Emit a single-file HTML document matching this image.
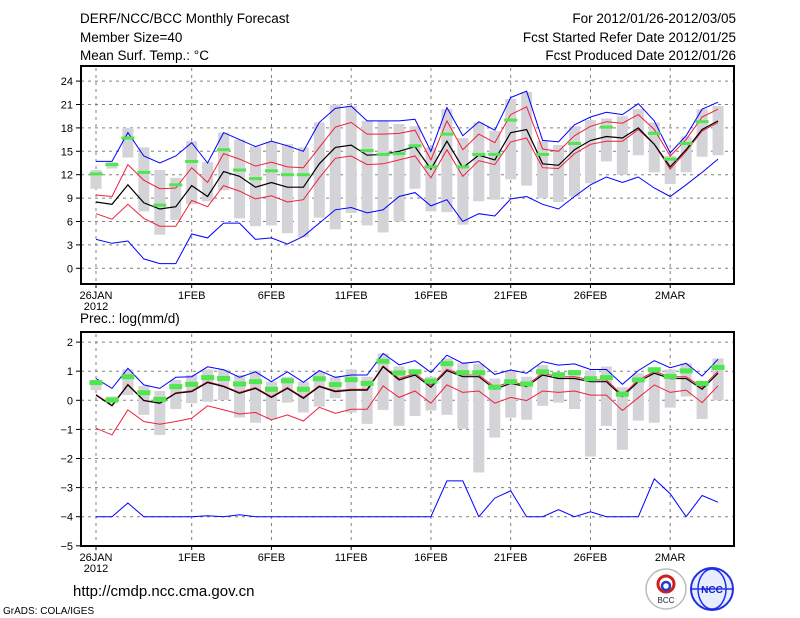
<!DOCTYPE html>
<html><head><meta charset="utf-8"><style>
html,body{margin:0;padding:0;background:#fff;}
svg{display:block;font-family:"Liberation Sans",sans-serif;}
</style></head><body>
<svg id="c" width="800" height="618" viewBox="0 0 800 618" xmlns="http://www.w3.org/2000/svg">
<rect x="0" y="0" width="800" height="618" fill="#fff"/>
<g font-size="13.5" fill="#000">
<text x="80" y="23">DERF/NCC/BCC Monthly Forecast</text>
<text x="80" y="42">Member Size=40</text>
<text x="80" y="60">Mean Surf. Temp.: °C</text>
<text x="736" y="23" text-anchor="end">For 2012/01/26-2012/03/05</text>
<text x="736" y="42" text-anchor="end">Fcst Started Refer Date 2012/01/25</text>
<text x="736" y="60" text-anchor="end">Fcst Produced Date 2012/01/26</text>
<text x="80" y="323">Prec.: log(mm/d)</text>
<text x="73" y="596" font-size="15">http://cmdp.ncc.cma.gov.cn</text>
<text x="3" y="614" font-size="10">GrADS: COLA/IGES</text>
</g>
<g>
<circle cx="666" cy="589" r="20" fill="#fff" stroke="#bbb" stroke-width="1.5"/>
<circle cx="666" cy="584" r="8" fill="none" stroke="#d02020" stroke-width="3"/>
<circle cx="666" cy="586" r="4" fill="none" stroke="#2040c0" stroke-width="2.5"/>
<text x="666" y="603" font-size="8" text-anchor="middle" fill="#223">BCC</text>
</g>
<g>
<circle cx="712" cy="589" r="21" fill="#e8ecff" stroke="#2030e0" stroke-width="2"/>
<ellipse cx="712" cy="589" rx="14" ry="20" fill="none" stroke="#2030e0" stroke-width="1.5"/>
<line x1="691" y1="589" x2="733" y2="589" stroke="#2030e0" stroke-width="1.5"/>
<text x="712" y="593" font-size="10" font-weight="bold" text-anchor="middle" fill="#1020d0">NCC</text>
</g>
<g id="plots"></g>
</svg>
<script>
// ---- data ----
var dayLabels = ["26JAN","1FEB","6FEB","11FEB","16FEB","21FEB","26FEB","2MAR"];
var dayLabelIdx = [0,6,11,16,21,26,31,36];
var tTicks = [0,3,6,9,12,15,18,21,24];
var pTicks = [2,1,0,-1,-2,-3,-4,-5];

var tMax = [13.7,13.7,17.4,14.4,13.5,14.4,16.1,13.5,17.4,16.5,15.6,16.3,15.7,15.0,18.7,20.5,20.8,18.9,18.9,18.9,19.1,15.0,20.6,17.0,18.8,17.7,21.9,22.7,16.4,16.2,18.4,19.4,20.0,19.7,21.1,18.9,14.8,17.0,20.4,21.3];
var tUp = [9.4,9.2,13.3,11.3,10.2,10.3,12.9,11.0,14.7,14.0,13.1,13.6,13.0,12.9,15.5,18.1,18.7,17.2,17.2,17.3,17.7,13.9,18.9,15.2,17.2,16.1,19.7,20.7,15.3,15.0,17.0,18.2,18.8,18.6,19.7,17.8,14.4,16.5,19.4,20.4];
var tMean = [8.5,8.2,10.7,8.4,7.6,7.9,10.6,9.2,12.4,11.8,10.4,11.0,10.4,10.4,13.4,15.5,15.8,14.5,14.6,15.0,15.6,12.7,16.3,12.9,14.5,13.9,17.4,17.8,13.4,13.2,15.2,16.4,16.9,16.7,18.0,15.9,13.0,15.2,17.8,18.9];
var tLow = [7.0,6.3,8.2,6.4,5.4,5.4,8.7,7.9,10.6,9.9,8.9,9.3,8.5,8.8,11.6,14.1,14.4,13.3,13.4,13.9,14.4,11.6,15.2,11.8,13.8,13.3,16.2,16.7,12.9,12.8,14.7,15.9,16.3,16.3,17.8,15.9,12.7,15.0,17.6,18.7];
var tMin = [3.7,3.2,3.5,1.2,0.6,0.6,4.4,3.9,5.8,5.8,3.7,3.9,3.1,4.1,5.8,7.5,7.8,7.1,7.5,9.2,9.7,8.0,8.8,6.0,7.0,6.7,8.9,9.2,8.2,7.6,9.2,10.7,11.7,11.0,11.7,10.3,9.2,10.7,12.3,14.0];
var tBarTop = [12.6,13.6,18.0,15.5,12.6,11.6,16.3,13.6,17.4,16.5,15.6,16.2,15.9,15.5,18.7,21.0,20.8,18.9,18.9,18.5,18.2,15.5,20.4,16.7,18.7,17.6,21.7,22.6,16.3,15.8,18.2,19.0,19.2,19.5,20.4,18.7,14.4,16.9,20.4,20.8];
var tBarBot = [10.2,12.8,14.2,7.3,4.3,6.2,8.2,8.6,10.0,6.4,5.4,5.5,4.5,4.0,6.5,5.0,7.1,5.5,4.6,6.0,10.2,7.3,7.2,5.6,8.6,8.8,11.4,10.6,9.0,8.5,9.2,10.9,13.7,12.0,14.5,12.3,10.8,12.3,14.3,14.5];
var tObs = [12.1,13.3,16.7,12.3,8.1,10.7,13.7,null,15.2,12.6,11.5,12.5,12.0,12.0,null,null,null,15.1,14.6,14.7,15.7,13.0,17.2,13.0,14.6,14.6,19.0,null,14.6,null,16.0,null,18.1,null,null,17.3,14.0,16.0,18.8,null];

var pMax = [0.75,0.41,1.10,0.53,0.41,0.79,0.81,1.15,1.05,0.79,0.98,0.64,0.98,0.62,1.02,0.79,0.87,0.87,1.61,1.22,1.36,0.96,1.55,1.27,1.33,0.89,1.04,0.93,1.33,1.21,1.25,1.06,1.06,0.55,1.02,1.36,1.12,1.27,0.83,1.41];
var pUp = [0.20,-0.17,0.55,0.00,-0.09,0.26,0.33,0.64,0.50,0.27,0.44,0.13,0.44,0.10,0.50,0.33,0.38,0.38,1.18,0.75,0.92,0.52,1.07,0.87,0.87,0.45,0.64,0.52,0.93,0.81,0.81,0.70,0.70,0.18,0.70,0.99,0.81,0.81,0.45,1.00];
var pMean = [0.18,-0.19,0.53,-0.01,-0.10,0.24,0.30,0.61,0.47,0.24,0.41,0.10,0.41,0.07,0.47,0.30,0.35,0.35,1.15,0.70,0.87,0.45,1.02,0.81,0.81,0.38,0.58,0.47,0.87,0.75,0.75,0.64,0.64,0.13,0.64,0.93,0.75,0.75,0.38,0.93];
var pLow = [-0.96,-1.19,-0.33,-0.73,-0.82,-0.73,-0.62,-0.19,-0.33,-0.47,-0.42,-0.67,-0.50,-0.71,-0.24,-0.45,-0.31,-0.31,0.49,0.10,0.32,-0.10,0.53,0.27,0.32,-0.10,0.10,-0.01,0.32,0.27,0.32,0.18,0.18,-0.35,0.09,0.53,0.27,0.35,-0.08,0.50];
var pMin = [-4,-4,-3.53,-4,-4,-4,-4,-3.97,-4,-3.93,-4,-4,-4,-4,-4,-4,-4,-4,-4,-4,-4,-4,-2.77,-2.77,-4,-3.36,-3.11,-4,-4,-3.76,-4,-3.83,-4,-4,-4,-2.70,-3.21,-4,-3.27,-3.50];
var pBarTop = [0.70,0.13,1.06,0.49,0.32,0.70,0.87,1.06,1.06,0.87,1.02,0.64,0.81,0.64,0.98,0.79,1.06,0.81,1.61,1.16,1.06,0.81,1.44,1.27,1.25,0.75,1.04,0.81,1.21,0.95,1.04,1.02,1.16,0.45,0.93,1.13,1.06,1.27,0.64,1.44];
var pBarBot = [0.35,-0.10,0.18,-0.50,-1.19,-0.30,-0.10,-0.05,0.01,-0.59,-0.77,-0.65,-0.08,-0.42,-0.22,0.07,-0.42,-0.81,-0.33,-0.88,-0.54,-0.35,-0.50,-0.98,-2.48,-1.28,-0.59,-0.67,-0.19,-0.08,-0.30,-1.93,-0.88,-1.70,-0.70,-0.77,-0.25,0.13,-0.64,0.00];
var pObs = [0.61,0.01,0.81,0.26,0.03,0.47,0.55,0.78,0.75,0.56,0.64,0.38,0.67,0.38,0.74,0.54,0.71,0.58,1.34,0.94,0.98,0.66,1.26,0.95,0.95,0.45,0.64,0.56,0.98,0.88,0.95,0.74,0.78,0.21,0.70,1.05,0.82,1.01,0.58,1.13];

// ---- drawing ----
var NS = "http://www.w3.org/2000/svg";
var root = document.getElementById("plots");
function xd(d){ return 96 + 15.95*d; }
function yT(v){ return 268.3 - 7.8*v; }
function yB(v){ return 400.3 - 29.1*v; }
function mk(tag, attrs, parent){
  var e = document.createElementNS(NS, tag);
  for (var k in attrs) e.setAttribute(k, attrs[k]);
  (parent||root).appendChild(e);
  return e;
}

function panel(name, y0, y1, ys, ticks, fmt, sMax, sUp, sMean, sLow, sMin, bTop, bBot, obs, obsH){
  var g = mk("g", {});
  
  
  // gridlines
  ticks.forEach(function(t){
    var y = ys(t);
    if (y > y0+2 && y < y1-2){
      var l = mk("line", {x1:81, x2:734, y1:y, y2:y, stroke:"#808080", "stroke-width":1, "stroke-dasharray":"3,4"}, g);
      
      
    }
    var tk = mk("line", {x1:76, x2:81, y1:y, y2:y, stroke:"#000", "stroke-width":1}, g);
    
    
    var tx = mk("text", {x:73, y:y+4, "font-size":11, "text-anchor":"end", fill:"#000"}, g);
    tx.textContent = fmt(t);
    
    
  });
  dayLabelIdx.forEach(function(d, i){
    var x = xd(d);
    var l = mk("line", {x1:x, x2:x, y1:y0+2, y2:y1-2, stroke:"#808080", "stroke-width":1, "stroke-dasharray":"3,4"}, g);
    
    
    var tk = mk("line", {x1:x, x2:x, y1:y1, y2:y1+4, stroke:"#000", "stroke-width":1}, g);
    
    
    var tx = mk("text", {x:x, y:y1+15, "font-size":11, "text-anchor":"middle", fill:"#000"}, g);
    tx.textContent = dayLabels[i];
    
    
  });
  var yr = mk("text", {x:96, y:y1+26, "font-size":11, "text-anchor":"middle", fill:"#000"}, g);
  yr.textContent = "2012";
  
  
  // bars
  for (var d = 0; d < bTop.length; d++){
    var t = ys(bTop[d]), b = ys(bBot[d]);
    var r = mk("rect", {x:xd(d)-5.5, y:t, width:11, height:Math.max(1,b-t), fill:"#d3d3d8"}, g);
    
    
  }
  function line(arr, color, nm, w){
    var pts = arr.map(function(v, d){ return xd(d).toFixed(1)+","+ys(v).toFixed(1); }).join(" ");
    var p = mk("polyline", {points:pts, fill:"none", stroke:color, "stroke-width":w||1}, g);
    
    
  }
  line(sMin, "#0000ff", "min-line");
  line(sMax, "#0000ff", "max-line");
  line(sLow, "#f0203c", "lower-bound-line");
  line(sUp, "#f0203c", "upper-bound-line");
  line(sMean, "#000000", "ensemble-mean-line", 1.2);
  // obs markers
  for (var d2 = 0; d2 < obs.length; d2++){
    if (obs[d2] === null) continue;
    var m = mk("rect", {x:xd(d2)-6.5, y:ys(obs[d2])-obsH/2, width:13, height:obsH, fill:"#50e650"}, g);
    
    
  }
  // frame
  var f = mk("rect", {x:81, y:y0, width:653, height:y1-y0, fill:"none", stroke:"#000", "stroke-width":2}, g);
  
  
}

panel("temperature-panel", 66, 284, yT, tTicks, function(t){ return String(t); },
  tMax, tUp, tMean, tLow, tMin, tBarTop, tBarBot, tObs, 3);
panel("precipitation-panel", 332, 546, yB, pTicks, function(t){ return t < 0 ? "\u2212"+(-t) : String(t); },
  pMax, pUp, pMean, pLow, pMin, pBarTop, pBarBot, pObs, 5);
</script>
</body></html>
